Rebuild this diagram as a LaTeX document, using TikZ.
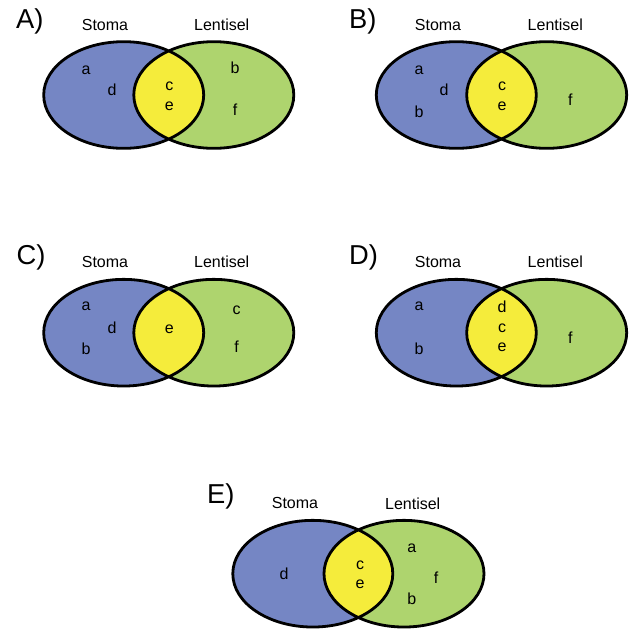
\documentclass[tikz,border=0pt]{standalone}
\usepackage{fontspec}
\setmainfont{Liberation Sans}
\definecolor{stomablue}{RGB}{117,134,196}
\definecolor{lentigreen}{RGB}{174,212,110}
\definecolor{sharedyellow}{RGB}{245,236,59}

\begin{document}
\begin{tikzpicture}[x=0.75pt, y=-0.75pt,
        panel/.style={anchor=base west, font=\fontsize{20.5}{20.5}\selectfont},
        setname/.style={font=\fontsize{12}{14}\selectfont},
        item/.style={font=\fontsize{12}{14}\selectfont, inner sep=0pt},
        ring/.style={line width=2.1pt},
        oval/.style={x radius=60pt, y radius=40pt}]

        \useasboundingbox (0,0) rectangle (637,633);

        % panel A
        \coordinate (aL) at (123.7,95);
        \coordinate (aR) at (213.8,95);
        \fill[stomablue] (aL) ellipse [oval];
        \fill[lentigreen] (aR) ellipse [oval];
        \begin{scope}
            \clip (aL) ellipse [oval];
            \fill[sharedyellow] (aR) ellipse [oval];
        \end{scope}
        \draw[ring] (aL) ellipse [oval]
            (aR) ellipse [oval];
        \node[panel] (pA) at (11.5,28.5) {A)};
        \node[setname] (sA) at (105,25) {Stoma};
        \node[setname] (lA) at (221.7,25) {Lentisel};
        \node[item] (aa) at (86,70.7) {a};
        \node[item] (ad) at (112,90) {d};
        \node[item] (ac) at (169.3,86) {c};
        \node[item] (ae) at (169.3,106) {e};
        \node[item] (ab) at (235,68) {b};
        \node[item] (af) at (235,110) {f};

        % panel B
        \coordinate (bL) at (456.3,95);
        \coordinate (bR) at (546.7,95);
        \fill[stomablue] (bL) ellipse [oval];
        \fill[lentigreen] (bR) ellipse [oval];
        \begin{scope}
            \clip (bL) ellipse [oval];
            \fill[sharedyellow] (bR) ellipse [oval];
        \end{scope}
        \draw[ring] (bL) ellipse [oval]
            (bR) ellipse [oval];
        \node[panel] (pB) at (344.5,28) {B)};
        \node[setname] (sB) at (438,25) {Stoma};
        \node[setname] (lB) at (555.3,25) {Lentisel};
        \node[item] (ba) at (419,70.7) {a};
        \node[item] (bd) at (444,90) {d};
        \node[item] (bb) at (419,111.7) {b};
        \node[item] (bc) at (502,86.7) {c};
        \node[item] (be) at (502,106) {e};
        \node[item] (bf) at (570.3,99.3) {f};

        % panel C
        \coordinate (cL) at (123.7,332.7);
        \coordinate (cR) at (213.8,332.7);
        \fill[stomablue] (cL) ellipse [oval];
        \fill[lentigreen] (cR) ellipse [oval];
        \begin{scope}
            \clip (cL) ellipse [oval];
            \fill[sharedyellow] (cR) ellipse [oval];
        \end{scope}
        \draw[ring] (cL) ellipse [oval]
            (cR) ellipse [oval];
        \node[panel] (pC) at (12,264) {C)};
        \node[setname] (sC) at (105,262) {Stoma};
        \node[setname] (lC) at (221.7,262) {Lentisel};
        \node[item] (ca) at (86,306.7) {a};
        \node[item] (cd) at (112,327.3) {d};
        \node[item] (cb) at (86,348.3) {b};
        \node[item] (ce) at (169.3,329.3) {e};
        \node[item] (cc) at (236.7,310) {c};
        \node[item] (cf) at (236.7,346.7) {f};

        % panel D
        \coordinate (dL) at (456.3,332.7);
        \coordinate (dR) at (546.7,332.7);
        \fill[stomablue] (dL) ellipse [oval];
        \fill[lentigreen] (dR) ellipse [oval];
        \begin{scope}
            \clip (dL) ellipse [oval];
            \fill[sharedyellow] (dR) ellipse [oval];
        \end{scope}
        \draw[ring] (dL) ellipse [oval]
            (dR) ellipse [oval];
        \node[panel] (pD) at (344.5,264) {D)};
        \node[setname] (sD) at (438,262) {Stoma};
        \node[setname] (lD) at (555.3,262) {Lentisel};
        \node[item] (da) at (419,306.7) {a};
        \node[item] (db) at (419,348.3) {b};
        \node[item] (dd) at (502,306.7) {d};
        \node[item] (dc) at (502,328.3) {c};
        \node[item] (de) at (502,347.3) {e};
        \node[item] (df) at (570.3,337.3) {f};

        % panel E
        \coordinate (eL) at (312.8,573.7);
        \coordinate (eR) at (404,573.7);
        \fill[stomablue] (eL) ellipse [oval];
        \fill[lentigreen] (eR) ellipse [oval];
        \begin{scope}
            \clip (eL) ellipse [oval];
            \fill[sharedyellow] (eR) ellipse [oval];
        \end{scope}
        \draw[ring] (eL) ellipse [oval]
            (eR) ellipse [oval];
        \node[panel] (pE) at (202.5,503.3) {E)};
        \node[setname] (sE) at (295,503.3) {Stoma};
        \node[setname] (lE) at (412.7,503.3) {Lentisel};
        \node[item] (ed) at (284,574) {d};
        \node[item] (ec) at (360,565) {c};
        \node[item] (ee) at (360,584) {e};
        \node[item] (ea) at (411.7,548.3) {a};
        \node[item] (ef) at (436,577.3) {f};
        \node[item] (eb) at (411.7,598.3) {b};
    \end{tikzpicture}
\end{document}
